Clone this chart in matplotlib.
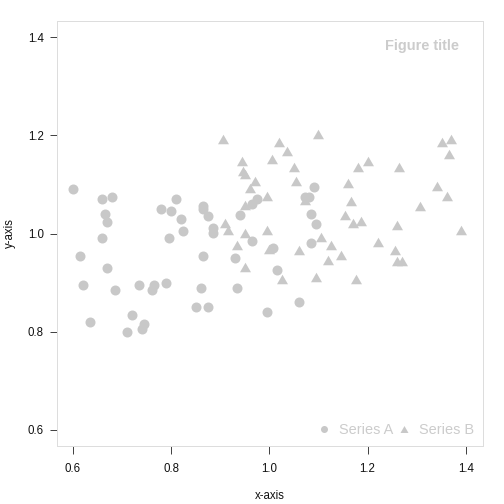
import matplotlib
matplotlib.use("Agg")
import matplotlib.pyplot as plt
from matplotlib.lines import Line2D
from matplotlib.path import Path

plt.rcParams['font.family'] = ['Liberation Sans', 'DejaVu Sans']

# Series A (circles)
a_x = [0.600, 0.660, 0.679, 0.665, 0.670, 0.659, 0.615, 0.670, 0.620, 0.685,
       0.635, 0.720, 0.710, 0.741, 0.745, 0.734, 0.760, 0.765, 0.789, 0.780,
       0.800, 0.810, 0.820, 0.825, 0.795, 0.865, 0.865, 0.874, 0.886, 0.885,
       0.865, 0.860, 0.850, 0.875, 0.930, 0.935, 0.940, 0.965, 0.965, 0.974,
       0.995, 1.008, 1.015, 1.060, 1.072, 1.081, 1.091, 1.085, 1.095, 1.085]
a_y = [1.090, 1.071, 1.075, 1.040, 1.024, 0.990, 0.955, 0.930, 0.895, 0.885,
       0.820, 0.835, 0.800, 0.805, 0.815, 0.895, 0.885, 0.895, 0.900, 1.050,
       1.045, 1.071, 1.030, 1.005, 0.990, 1.055, 1.050, 1.036, 1.012, 1.001,
       0.955, 0.890, 0.850, 0.850, 0.950, 0.890, 1.037, 0.985, 1.060, 1.070,
       0.840, 0.970, 0.925, 0.860, 1.075, 1.075, 1.095, 1.040, 1.020, 0.980]

# Series B (triangles)
b_x = [0.906, 1.020, 1.100, 1.036, 1.005, 0.945, 0.946, 0.950, 1.050, 0.970,
       1.055, 0.960, 0.995, 1.073, 0.950, 0.910, 0.915, 0.950, 0.995, 0.935,
       0.999, 0.950, 1.025, 1.060, 1.106, 1.125, 1.145, 1.120, 1.095, 1.176,
       1.160, 1.180, 1.200, 1.265, 1.351, 1.371, 1.366, 1.341, 1.361, 1.306,
       1.166, 1.155, 1.170, 1.186, 1.261, 1.391, 1.221, 1.256, 1.261, 1.271]
b_y = [1.192, 1.187, 1.202, 1.167, 1.152, 1.147, 1.128, 1.122, 1.136, 1.107,
       1.106, 1.092, 1.077, 1.068, 1.058, 1.022, 1.007, 1.002, 1.007, 0.977,
       0.968, 0.932, 0.907, 0.967, 0.992, 0.977, 0.957, 0.946, 0.912, 0.907,
       1.102, 1.136, 1.147, 1.136, 1.187, 1.192, 1.162, 1.097, 1.077, 1.057,
       1.067, 1.037, 1.021, 1.026, 1.017, 1.007, 0.982, 0.967, 0.943, 0.943]

x_ticks = [0.6, 0.8, 1.0, 1.2, 1.4]
y_ticks = [0.6, 0.8, 1.0, 1.2, 1.4]
series_names = ["Series A", "Series B"]
title = "Figure title"

pt_color = '#c8c8c8'
tri = Path([(-1, -0.866), (1, -0.866), (0, 0.866), (-1, -0.866)],
           [Path.MOVETO, Path.LINETO, Path.LINETO, Path.CLOSEPOLY])

fig = plt.figure(figsize=(7, 7), dpi=72)
ax = fig.add_axes([57/504, 1-446/504, (483-57)/504, (446-21)/504])
ax.set_xlim(0.5674, 1.4352)
ax.set_ylim(0.5674, 1.4326)

ax.plot(a_x, a_y, linestyle='none', marker='o', markersize=10,
        markerfacecolor=pt_color, markeredgecolor='none')
ax.plot(b_x, b_y, linestyle='none', marker=tri, markersize=11,
        markerfacecolor=pt_color, markeredgecolor='none')

for s in ax.spines.values():
    s.set_color('#dddddd')
    s.set_linewidth(1)
# darker axis lines
ax.add_line(Line2D([0, 0], [0.005, 1], transform=ax.transAxes, color='#888888', lw=1, clip_on=False))
ax.add_line(Line2D([0.015, 1], [0, 0], transform=ax.transAxes, color='#888888', lw=1, clip_on=False))

ax.set_xticks(x_ticks)
ax.set_yticks(y_ticks)
ax.set_xticklabels([f"{v:.1f}" for v in x_ticks])
ax.set_yticklabels([f"{v:.1f}" for v in y_ticks])
ax.tick_params(axis='x', direction='out', length=8, width=1, color='#444444',
               labelsize=11.5, labelcolor='#111111', pad=9)
ax.tick_params(axis='y', direction='out', length=7, width=1, color='#444444',
               labelsize=11.5, labelcolor='#111111', pad=6)

fig.text(270/504, 1-496/504, "x-axis", ha='center', va='center', fontsize=11.5, color='#111111')
fig.text(10/504, 1-233/504, "y-axis", ha='center', va='center', rotation=90, fontsize=11.5, color='#111111')

ax.text((459-57)/(483-57), 1-(46-21)/(446-21), title, transform=ax.transAxes,
        ha='right', va='center', fontsize=14.5, fontweight='bold', color='#cccccc')

handles = [Line2D([], [], linestyle='none', marker='o', markersize=7,
                  markerfacecolor=pt_color, markeredgecolor='none'),
           Line2D([], [], linestyle='none', marker=tri, markersize=8,
                  markerfacecolor=pt_color, markeredgecolor='none')]
leg = ax.legend(handles, series_names, loc='lower right', ncol=2, frameon=False,
                fontsize=14.5, labelcolor='#cccccc', handlelength=0.8,
                handletextpad=0.62, columnspacing=0.4, borderaxespad=0.2,
                bbox_to_anchor=(1.0, 0.0))

fig.savefig("out.png", dpi=72)
